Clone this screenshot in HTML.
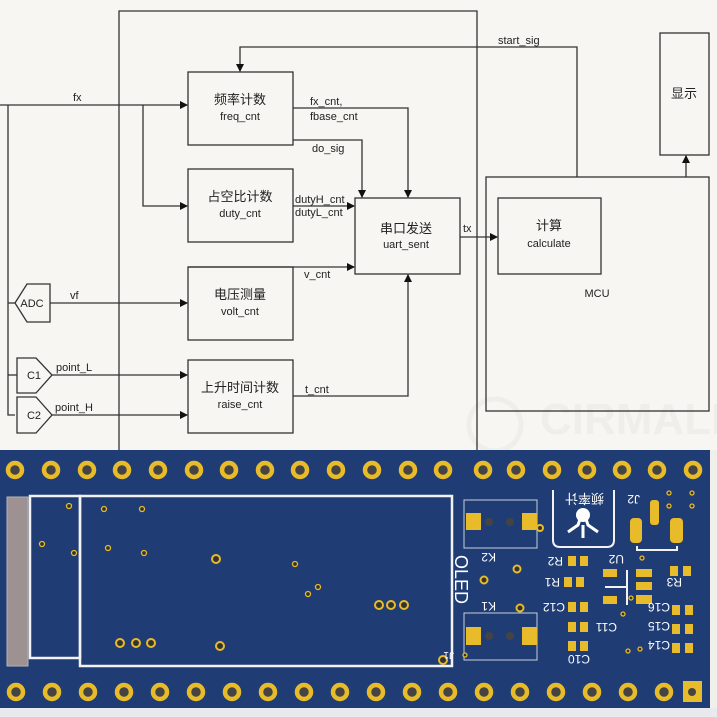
<!DOCTYPE html>
<html><head><meta charset="utf-8"><style>
html,body{margin:0;padding:0;background:#f7f6f2;}
svg{display:block}
.t{font-family:"Liberation Sans","Noto Sans CJK SC",sans-serif;fill:#222;}
</style></head><body>
<svg width="717" height="717" viewBox="0 0 717 717" xmlns="http://www.w3.org/2000/svg">
<defs>
<marker id="a" markerWidth="8" markerHeight="8" refX="7" refY="4" orient="auto" markerUnits="userSpaceOnUse"><path d="M0,0 L8,4 L0,8 z" fill="#111"/></marker>
</defs>
<rect width="717" height="717" fill="#f7f6f2"/>
<!-- watermark -->
<text x="540" y="434" font-family="Liberation Sans,sans-serif" font-size="44" font-weight="bold" fill="#efeeea">CIRMALL</text>
<circle cx="495" cy="425" r="26" fill="none" stroke="#efeeea" stroke-width="5"/>
<g stroke="#333" stroke-width="1.3" fill="none">
<polyline points="119,450 119,11 477,11 477,450"/>
<rect x="188" y="72" width="105" height="73"/>
<rect x="188" y="169" width="105" height="73"/>
<rect x="188" y="267" width="105" height="73"/>
<rect x="188" y="360" width="105" height="73"/>
<rect x="355" y="198" width="105" height="76"/>
<rect x="486" y="177" width="223" height="234"/>
<rect x="498" y="198" width="103" height="76"/>
<rect x="660" y="33" width="49" height="122"/>
<line x1="0" y1="105" x2="187" y2="105" marker-end="url(#a)"/>
<polyline points="143,105 143,206 187,206" marker-end="url(#a)"/>
<polyline points="8,105 8,415 15,415"/>
<line x1="8" y1="303" x2="15" y2="303"/>
<line x1="8" y1="375" x2="17" y2="375"/>
<line x1="50" y1="303" x2="187" y2="303" marker-end="url(#a)"/>
<line x1="52" y1="375" x2="187" y2="375" marker-end="url(#a)"/>
<line x1="52" y1="415" x2="187" y2="415" marker-end="url(#a)"/>
<polyline points="293,108 408,108 408,197" marker-end="url(#a)"/>
<polyline points="293,140 362,140 362,197" marker-end="url(#a)"/>
<line x1="293" y1="206" x2="354" y2="206" marker-end="url(#a)"/>
<line x1="188" y1="267" x2="354" y2="267" marker-end="url(#a)"/>
<polyline points="293,396 408,396 408,275" marker-end="url(#a)"/>
<line x1="460" y1="237" x2="497" y2="237" marker-end="url(#a)"/>
<polyline points="577,177 577,47 240,47 240,71" marker-end="url(#a)"/>
<line x1="686" y1="177" x2="686" y2="156" marker-end="url(#a)"/>
<polygon points="15,303 27,284 50,284 50,322 27,322"/>
<polygon points="17,358 36,358 52,375 36,393 17,393"/>
<polygon points="17,397 36,397 52,415 36,433 17,433"/>
</g>
<g class="t" font-size="11">
<text x="240" y="104" text-anchor="middle" font-size="13">频率计数</text>
<text x="240" y="120" text-anchor="middle">freq_cnt</text>
<text x="240" y="201" text-anchor="middle" font-size="13">占空比计数</text>
<text x="240" y="217" text-anchor="middle">duty_cnt</text>
<text x="240" y="299" text-anchor="middle" font-size="13">电压测量</text>
<text x="240" y="315" text-anchor="middle">volt_cnt</text>
<text x="240" y="392" text-anchor="middle" font-size="13">上升时间计数</text>
<text x="240" y="408" text-anchor="middle">raise_cnt</text>
<text x="406" y="233" text-anchor="middle" font-size="13">串口发送</text>
<text x="406" y="248" text-anchor="middle">uart_sent</text>
<text x="549" y="230" text-anchor="middle" font-size="13">计算</text>
<text x="549" y="247" text-anchor="middle">calculate</text>
<text x="597" y="297" text-anchor="middle">MCU</text>
<text x="684" y="98" text-anchor="middle" font-size="13">显示</text>
<text x="73" y="101">fx</text>
<text x="310" y="105">fx_cnt,</text>
<text x="310" y="120">fbase_cnt</text>
<text x="312" y="152">do_sig</text>
<text x="295" y="203">dutyH_cnt</text>
<text x="295" y="216">dutyL_cnt</text>
<text x="304" y="278">v_cnt</text>
<text x="305" y="393">t_cnt</text>
<text x="463" y="232">tx</text>
<text x="498" y="44">start_sig</text>
<text x="70" y="299">vf</text>
<text x="56" y="371">point_L</text>
<text x="55" y="411">point_H</text>
<text x="32" y="307" text-anchor="middle">ADC</text>
<text x="34" y="379" text-anchor="middle">C1</text>
<text x="34" y="419" text-anchor="middle">C2</text>
</g>
<!-- PCB -->
<rect x="0" y="450" width="710" height="258" fill="#1f3d74"/>
<rect x="710" y="450" width="7" height="267" fill="#f0efec"/>
<rect x="0" y="708" width="717" height="9" fill="#e8eaee"/>
<rect x="7" y="497" width="21" height="169" fill="#9d9191" stroke="#b8b4b4" stroke-width="1"/>
<g fill="none" stroke="#f2f2f2" stroke-width="2.5">
<rect x="30" y="496" width="50" height="162"/>
<rect x="80" y="496" width="372" height="170"/>
<rect x="464" y="500" width="73" height="48" stroke-width="1" stroke="#c9d0dc"/>
<rect x="464" y="613" width="73" height="47" stroke-width="1" stroke="#c9d0dc"/>
<path d="M553,490 V540 Q553,547 560,547 H607 Q614,547 614,540 V490" stroke-width="2"/>
<path d="M637,546 V550 H677 V546" stroke-width="2"/>
<line x1="627" y1="570" x2="627" y2="605" stroke-width="2"/>
<line x1="605" y1="587" x2="627" y2="587" stroke-width="2"/>
</g>
<g fill="#e8bb2a">
<rect x="466" y="513" width="15" height="17"/><rect x="522" y="513" width="15" height="17"/>
<rect x="466" y="627" width="15" height="18"/><rect x="522" y="627" width="15" height="18"/>
<rect x="650" y="500" width="9" height="25" rx="3"/>
<rect x="630" y="518" width="12" height="25" rx="4"/>
<rect x="670" y="518" width="13" height="25" rx="4"/>
<rect x="603" y="569" width="14" height="8"/><rect x="603" y="596" width="14" height="8"/>
<rect x="636" y="569" width="16" height="8"/><rect x="636" y="582" width="16" height="8"/><rect x="636" y="595" width="16" height="9"/>
<rect x="568" y="556" width="8" height="10"/><rect x="580" y="556" width="8" height="10"/>
<rect x="564" y="577" width="8" height="10"/><rect x="576" y="577" width="8" height="10"/>
<rect x="568" y="602" width="8" height="10"/><rect x="580" y="602" width="8" height="10"/>
<rect x="568" y="622" width="8" height="10"/><rect x="580" y="622" width="8" height="10"/>
<rect x="568" y="641" width="8" height="10"/><rect x="580" y="641" width="8" height="10"/>
<rect x="670" y="566" width="8" height="10"/><rect x="683" y="566" width="8" height="10"/>
<rect x="672" y="605" width="8" height="10"/><rect x="685" y="605" width="8" height="10"/>
<rect x="672" y="624" width="8" height="10"/><rect x="685" y="624" width="8" height="10"/>
<rect x="672" y="643" width="8" height="10"/><rect x="685" y="643" width="8" height="10"/>
<rect x="683" y="681" width="19" height="21"/>
</g>
<g fill="#444"><circle cx="489" cy="522" r="4"/><circle cx="510" cy="522" r="4"/><circle cx="489" cy="636" r="4"/><circle cx="510" cy="636" r="4"/></g>
<g fill="#444" stroke="#e8bb2a" stroke-width="4.5">
<circle cx="15" cy="470" r="7"/><circle cx="51" cy="470" r="7"/><circle cx="87" cy="470" r="7"/><circle cx="122" cy="470" r="7"/><circle cx="158" cy="470" r="7"/><circle cx="194" cy="470" r="7"/><circle cx="229" cy="470" r="7"/><circle cx="265" cy="470" r="7"/><circle cx="300" cy="470" r="7"/><circle cx="336" cy="470" r="7"/><circle cx="372" cy="470" r="7"/><circle cx="408" cy="470" r="7"/><circle cx="443" cy="470" r="7"/><circle cx="483" cy="470" r="7"/><circle cx="516" cy="470" r="7"/><circle cx="552" cy="470" r="7"/><circle cx="587" cy="470" r="7"/><circle cx="622" cy="470" r="7"/><circle cx="657" cy="470" r="7"/><circle cx="693" cy="470" r="7"/>
<circle cx="16" cy="692" r="7"/><circle cx="52" cy="692" r="7"/><circle cx="88" cy="692" r="7"/><circle cx="124" cy="692" r="7"/><circle cx="160" cy="692" r="7"/><circle cx="196" cy="692" r="7"/><circle cx="232" cy="692" r="7"/><circle cx="268" cy="692" r="7"/><circle cx="304" cy="692" r="7"/><circle cx="340" cy="692" r="7"/><circle cx="376" cy="692" r="7"/><circle cx="412" cy="692" r="7"/><circle cx="448" cy="692" r="7"/><circle cx="484" cy="692" r="7"/><circle cx="520" cy="692" r="7"/><circle cx="556" cy="692" r="7"/><circle cx="592" cy="692" r="7"/><circle cx="628" cy="692" r="7"/><circle cx="664" cy="692" r="7"/>
</g>
<circle cx="692" cy="692" r="4" fill="#444"/>
<g fill="#333" stroke="#e8bb2a" stroke-width="2">
<circle cx="120" cy="643" r="4"/><circle cx="136" cy="643" r="4"/><circle cx="151" cy="643" r="4"/>
<circle cx="216" cy="559" r="4"/><circle cx="220" cy="646" r="4"/>
<circle cx="379" cy="605" r="4"/><circle cx="391" cy="605" r="4"/><circle cx="404" cy="605" r="4"/>
<circle cx="443" cy="660" r="4"/><circle cx="517" cy="569" r="3.5"/><circle cx="484" cy="580" r="3.5"/><circle cx="520" cy="608" r="3.5"/>
<circle cx="540" cy="528" r="3"/>
</g>
<g fill="#333" stroke="#e8bb2a" stroke-width="1.3">
<circle cx="69" cy="506" r="2.5"/><circle cx="104" cy="509" r="2.5"/><circle cx="142" cy="509" r="2.5"/>
<circle cx="42" cy="544" r="2.5"/><circle cx="74" cy="553" r="2.5"/><circle cx="108" cy="548" r="2.5"/><circle cx="144" cy="553" r="2.5"/>
<circle cx="295" cy="564" r="2.5"/><circle cx="308" cy="594" r="2.5"/><circle cx="318" cy="587" r="2.5"/>
<circle cx="669" cy="493" r="2"/><circle cx="692" cy="493" r="2"/><circle cx="669" cy="506" r="2"/><circle cx="692" cy="506" r="2"/>
<circle cx="642" cy="558" r="2"/><circle cx="631" cy="598" r="2"/><circle cx="623" cy="614" r="2"/><circle cx="640" cy="649" r="2"/><circle cx="628" cy="651" r="2"/><circle cx="465" cy="655" r="2"/>
</g>
<g class="t" style="fill:#fff" font-size="12">
<text transform="translate(455,555) rotate(90)" font-size="18" style="fill:#fff">OLED</text>
<text transform="translate(496,553) rotate(180)" style="fill:#fff">K2</text>
<text transform="translate(496,602) rotate(180)" style="fill:#fff">K1</text>
<text transform="translate(454,652) rotate(180)" font-size="10" style="fill:#fff">J1</text>
<text transform="translate(640,495) rotate(180)" style="fill:#fff">J2</text>
<text transform="translate(624,555) rotate(180)" style="fill:#fff">U2</text>
<text transform="translate(563,557) rotate(180)" style="fill:#fff">R2</text>
<text transform="translate(560,578) rotate(180)" style="fill:#fff">R1</text>
<text transform="translate(565,603) rotate(180)" style="fill:#fff">C12</text>
<text transform="translate(617,623) rotate(180)" style="fill:#fff">C11</text>
<text transform="translate(590,655) rotate(180)" style="fill:#fff">C10</text>
<text transform="translate(682,578) rotate(180)" style="fill:#fff">R3</text>
<text transform="translate(670,603) rotate(180)" style="fill:#fff">C16</text>
<text transform="translate(670,622) rotate(180)" style="fill:#fff">C15</text>
<text transform="translate(670,641) rotate(180)" style="fill:#fff">C14</text>
<text transform="translate(604,494) scale(-1,-1)" font-size="13" style="fill:#fff">频率计</text>
</g>
<path d="M583,510 L578,525 L568,532 M583,510 L588,525 L598,532 M583,525 V538" stroke="#fff" stroke-width="3" fill="none"/>
<circle cx="583" cy="515" r="7" fill="#fff"/>
</svg>
</body></html>
